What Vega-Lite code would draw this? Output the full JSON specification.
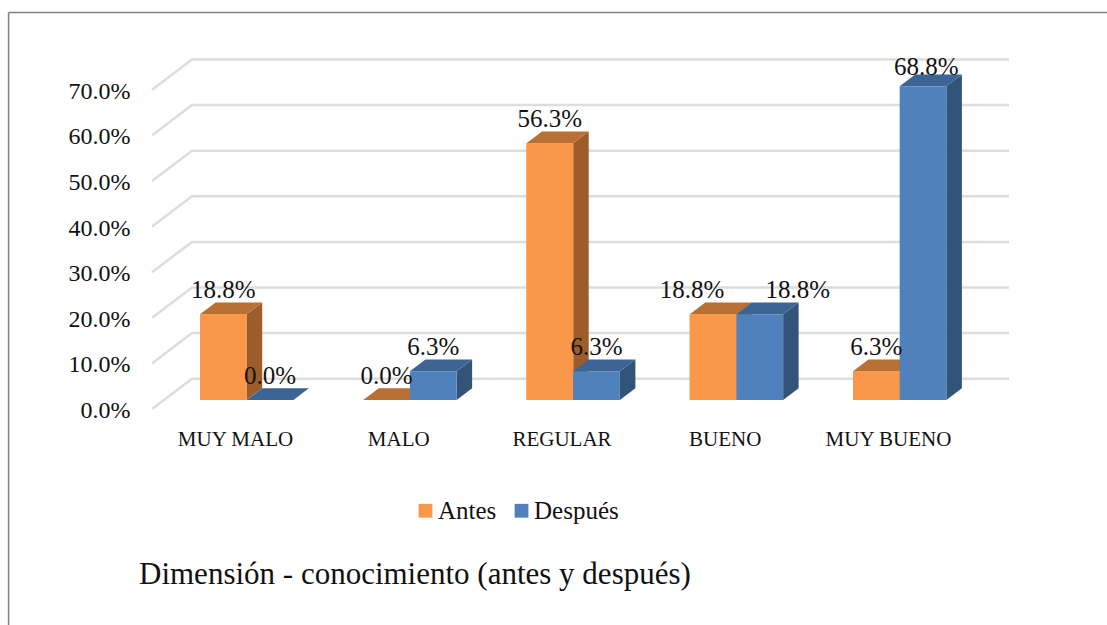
{
"$schema":"https://vega.github.io/schema/vega-lite/v6.json",
"width":857,"height":340,
"autosize":{"type":"none"},
"padding":{"left":152,"top":60,"right":98,"bottom":225},
"background":"white",
"config":{"view":{"stroke":null}},
"datasets":{
"barras":[
{"categoria":"MUY MALO","serie":"Antes","valor":18.8},
{"categoria":"MUY MALO","serie":"Después","valor":0.0},
{"categoria":"MALO","serie":"Antes","valor":0.0},
{"categoria":"MALO","serie":"Después","valor":6.3},
{"categoria":"REGULAR","serie":"Antes","valor":56.3},
{"categoria":"REGULAR","serie":"Después","valor":6.3},
{"categoria":"BUENO","serie":"Antes","valor":18.8},
{"categoria":"BUENO","serie":"Después","valor":18.8},
{"categoria":"MUY BUENO","serie":"Antes","valor":6.3},
{"categoria":"MUY BUENO","serie":"Después","valor":68.8}],
"rejilla":[{"marca":0},{"marca":10},{"marca":20},{"marca":30},{"marca":40},{"marca":50},{"marca":60},{"marca":70}]
},
"encoding":{
"x":{"field":"px","type":"quantitative","scale":{"domain":[-0.5084,4.7412],"nice":false,"zero":false},
"axis":{"title":null,"values":[0,1,2,3,4],"labelExpr":"['MUY MALO','MALO','REGULAR','BUENO','MUY BUENO'][datum.value]","domain":false,"ticks":false,"grid":false,"labelFont":"Liberation Serif","labelFontSize":21,"labelColor":"#111111","labelPadding":28.5,"labelFlush":false,"labelOverlap":false}},
"y":{"field":"py","type":"quantitative","scale":{"domain":[0,74.56],"nice":false,"zero":false},
"axis":{"title":null,"values":[0,10,20,30,40,50,60,70],"labelExpr":"format(datum.value,'.1f')+'%'","domain":false,"ticks":false,"grid":false,"labelFont":"Liberation Serif","labelFontSize":24,"labelColor":"#111111","labelPadding":22,"labelOffset":10.5,"labelOverlap":false}}
},
"layer":[
{"data":{"values":[{"lado":"superior"}]},
"transform":[{"calculate":"-1.387","as":"px"},{"calculate":"5.4","as":"px2"},{"calculate":"84.98","as":"py"}],
"mark":{"type":"rule","color":"#808080","strokeWidth":1.5,"clip":false},
"encoding":{"x2":{"field":"px2"}}},
{"data":{"values":[{"lado":"izquierdo"}]},
"transform":[{"calculate":"-1.387","as":"px"},{"calculate":"84.98","as":"py"},{"calculate":"-49.5","as":"py2"}],
"mark":{"type":"rule","color":"#808080","strokeWidth":1.5,"clip":false},
"encoding":{"y2":{"field":"py2"}}},
{"data":{"name":"rejilla"},
"transform":[{"calculate":"-0.5084","as":"a0"},{"calculate":"-0.2633","as":"a1"},{"calculate":"4.7412","as":"a2"},
{"fold":["a0","a1","a2"],"as":["k","px"]},
{"calculate":"datum.marca+(datum.k=='a0'?-1.974:4.67)","as":"py"}],
"mark":{"type":"line","color":"#DDDDDD","strokeWidth":2.5,"clip":false},
"encoding":{"detail":{"field":"marca"}}},

{"data":{"name":"barras"},
"transform":[{"filter":"datum.serie=='Antes'"},
{"calculate":"indexof(['MUY MALO','MALO','REGULAR','BUENO','MUY BUENO'],datum.categoria)-0.2144+0.286","as":"r"},
{"calculate":"0","as":"a"},{"calculate":"1","as":"b"},{"fold":["a","b"],"as":["k","t"]},
{"calculate":"datum.r+datum.t*0.095","as":"px"},{"calculate":"datum.valor+datum.t*2.566","as":"py"},{"calculate":"datum.t*2.566","as":"py2"}],
"mark":{"type":"area","orient":"vertical","color":"#9C5D2A"},
"encoding":{"y2":{"field":"py2"},"detail":{"field":"categoria"}}},
{"data":{"name":"barras"},
"transform":[{"filter":"datum.serie=='Antes'"},
{"calculate":"indexof(['MUY MALO','MALO','REGULAR','BUENO','MUY BUENO'],datum.categoria)-0.2144","as":"l"},
{"calculate":"datum.l","as":"p0"},{"calculate":"datum.l+0.095","as":"p1"},{"calculate":"datum.l+0.286","as":"p2"},{"calculate":"datum.l+0.381","as":"p3"},
{"fold":["p0","p1","p2","p3"],"as":["k","px"]},
{"calculate":"datum.k=='p3'?datum.valor+2.566:datum.valor","as":"py"},{"calculate":"datum.k=='p0'?datum.valor:datum.valor+2.566","as":"py2"}],
"mark":{"type":"area","orient":"vertical","color":"#B87034"},
"encoding":{"y2":{"field":"py2"},"detail":{"field":"categoria"}}},

{"data":{"name":"barras"},
"transform":[{"filter":"datum.serie=='Antes'"},
{"calculate":"indexof(['MUY MALO','MALO','REGULAR','BUENO','MUY BUENO'],datum.categoria)-0.2144","as":"px"},
{"calculate":"datum.px+0.286","as":"px2"},{"calculate":"datum.valor","as":"py"},{"calculate":"0","as":"py2"}],
"mark":{"type":"rect","color":"#F9984A"},
"encoding":{"x2":{"field":"px2"},"y2":{"field":"py2"}}},

{"data":{"name":"barras"},
"transform":[{"filter":"datum.serie=='Después'"},
{"calculate":"indexof(['MUY MALO','MALO','REGULAR','BUENO','MUY BUENO'],datum.categoria)+0.0716+0.286","as":"r"},
{"calculate":"0","as":"a"},{"calculate":"1","as":"b"},{"fold":["a","b"],"as":["k","t"]},
{"calculate":"datum.r+datum.t*0.095","as":"px"},{"calculate":"datum.valor+datum.t*2.566","as":"py"},{"calculate":"datum.t*2.566","as":"py2"}],
"mark":{"type":"area","orient":"vertical","color":"#335479"},
"encoding":{"y2":{"field":"py2"},"detail":{"field":"categoria"}}},
{"data":{"name":"barras"},
"transform":[{"filter":"datum.serie=='Después'"},
{"calculate":"indexof(['MUY MALO','MALO','REGULAR','BUENO','MUY BUENO'],datum.categoria)+0.0716","as":"l"},
{"calculate":"datum.l","as":"p0"},{"calculate":"datum.l+0.095","as":"p1"},{"calculate":"datum.l+0.286","as":"p2"},{"calculate":"datum.l+0.381","as":"p3"},
{"fold":["p0","p1","p2","p3"],"as":["k","px"]},
{"calculate":"datum.k=='p3'?datum.valor+2.566:datum.valor","as":"py"},{"calculate":"datum.k=='p0'?datum.valor:datum.valor+2.566","as":"py2"}],
"mark":{"type":"area","orient":"vertical","color":"#3C6494"},
"encoding":{"y2":{"field":"py2"},"detail":{"field":"categoria"}}},

{"data":{"name":"barras"},
"transform":[
{"calculate":"indexof(['MUY MALO','MALO','REGULAR','BUENO','MUY BUENO'],datum.categoria)-0.2144+(datum.serie=='Antes'?0:0.286)","as":"px"},
{"calculate":"datum.px+0.286","as":"px2"},{"calculate":"datum.valor","as":"py"},{"calculate":"0","as":"py2"}],
"mark":{"type":"rect"},
"encoding":{"x2":{"field":"px2"},"y2":{"field":"py2"},
"color":{"field":"serie","type":"nominal","scale":{"domain":["Antes","Después"],"range":["#F9984A","#4F81BD"]},
"legend":{"title":null,"orient":"none","legendX":261,"legendY":438,"direction":"horizontal","symbolType":"square","symbolSize":190,"symbolStrokeWidth":0,"labelFont":"Liberation Serif","labelFontSize":25,"labelColor":"#111111","labelOffset":0,"columnPadding":12}}}},

{"data":{"name":"barras"},
"transform":[
{"calculate":"indexof(['MUY MALO','MALO','REGULAR','BUENO','MUY BUENO'],datum.categoria)-0.0714+(datum.serie=='Antes'?0:0.286)+(datum.categoria=='BUENO'?(datum.serie=='Antes'?-0.129:0.233):0)+(datum.categoria=='MUY BUENO'&&datum.serie=='Después'?0.02:0)","as":"px"},
{"calculate":"datum.valor+(datum.valor>60?4.17:5.3)","as":"py"},
{"calculate":"format(datum.valor,'.1f')+'%'","as":"etiqueta"}],
"mark":{"type":"text","font":"Liberation Serif","fontSize":25,"color":"#111111","baseline":"middle","align":"center"},
"encoding":{"text":{"field":"etiqueta"}}},

{"data":{"values":[{"titulo":"Dimensión - conocimiento (antes y después)"}]},
"transform":[{"calculate":"-0.588","as":"px"},{"calculate":"-38.4","as":"py"}],
"mark":{"type":"text","font":"Liberation Serif","fontSize":31,"color":"#111111","baseline":"middle","align":"left"},
"encoding":{"text":{"field":"titulo"}}}
]
}
